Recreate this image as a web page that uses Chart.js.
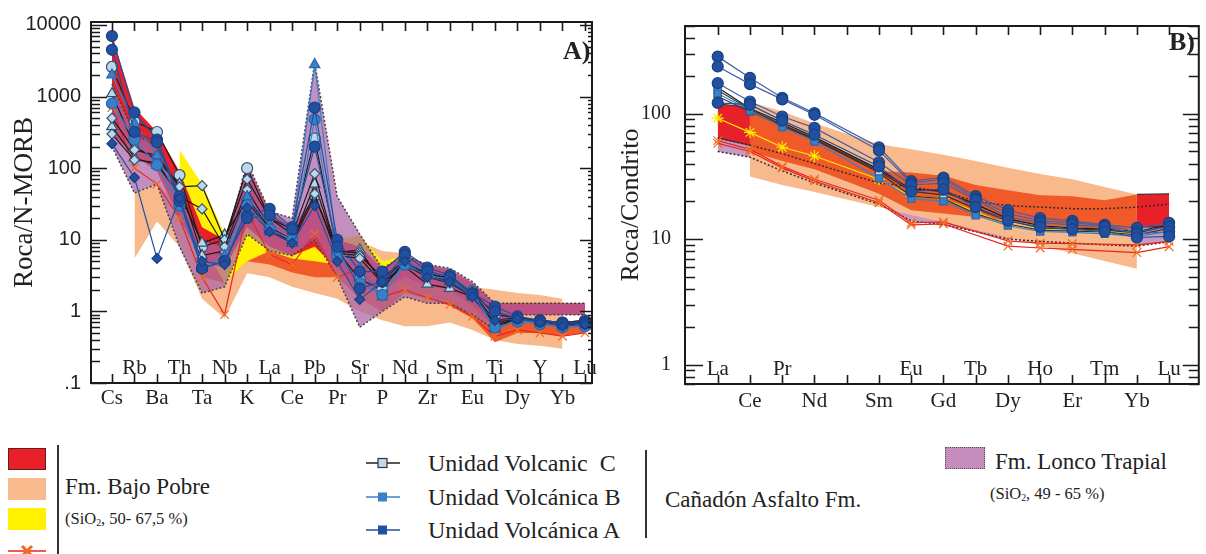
<!DOCTYPE html>
<html lang="es">
<head>
<meta charset="UTF-8">
<title>Diagramas multielementales</title>
<script src="https://cdn.jsdelivr.net/npm/chart.js"></script>
<style>
  body { margin: 0; background: #fff; }
  #page { position: relative; width: 1206px; height: 554px; overflow: hidden; font-family: "Liberation Serif", "Times New Roman", serif; color: #222; }
  canvas { position: absolute; top: 0; }
  .t { position: absolute; line-height: 1; white-space: nowrap; }
  .sw { position: absolute; width: 38px; height: 22px; }
  .vl { position: absolute; width: 1.5px; background: #333; }
  sub { font-size: 60%; vertical-align: -2px; line-height: 0; }
</style>
</head>
<body>
<div id="page">
  <canvas id="chartA" width="600" height="420" style="left:0"></canvas>
  <canvas id="chartB" width="606" height="420" style="left:600px"></canvas>

  <div class="t" style="left:563px; top:38px; font-size:26px; font-weight:bold;">A)</div>
  <div class="t" style="left:1169px; top:29px; font-size:26px; font-weight:bold;">B)</div>

  <!-- leyenda izquierda -->
  <div class="sw" style="left:8px; top:448px; background:#e8202a; border:1px solid #6b1a1a; box-sizing:border-box;"></div>
  <div class="sw" style="left:8px; top:478px; background:#f8b98c;"></div>
  <div class="sw" style="left:8px; top:508px; background:#fff100;"></div>
  <svg style="position:absolute; left:8px; top:540px;" width="40" height="14">
    <line x1="0" y1="11" x2="38" y2="11" stroke="#e8251f" stroke-width="1.5"/>
    <path d="M14 6 L24 16 M24 6 L14 16" stroke="#f26b21" stroke-width="3"/>
  </svg>
  <div class="vl" style="left:57px; top:445px; height:109px;"></div>
  <div class="t" style="left:65px; top:475px; font-size:23px;">Fm. Bajo Pobre</div>
  <div class="t" style="left:65px; top:511px; font-size:16.5px;">(SiO<sub>2</sub>, 50- 67,5 %)</div>

  <!-- leyenda central -->
  <svg style="position:absolute; left:366px; top:456px;" width="34" height="14">
    <line x1="0" y1="7" x2="34" y2="7" stroke="#222" stroke-width="1.5"/>
    <rect x="12" y="2.5" width="9" height="9" fill="#bdd7ee" stroke="#333" stroke-width="1.2"/>
  </svg>
  <svg style="position:absolute; left:366px; top:490px;" width="34" height="14">
    <line x1="0" y1="7" x2="34" y2="7" stroke="#3a80c9" stroke-width="1.5"/>
    <rect x="12" y="2.5" width="9" height="9" fill="#3a80c9"/>
  </svg>
  <svg style="position:absolute; left:366px; top:523px;" width="34" height="14">
    <line x1="0" y1="7" x2="34" y2="7" stroke="#2150a0" stroke-width="1.5"/>
    <rect x="12" y="2.5" width="9" height="9" fill="#2150a0"/>
  </svg>
  <div class="t" style="left:428px; top:451px; font-size:24px;">Unidad Volcanic&nbsp; C</div>
  <div class="t" style="left:428px; top:485px; font-size:24px;">Unidad Volcánica B</div>
  <div class="t" style="left:428px; top:518px; font-size:24px;">Unidad Volcánica A</div>
  <div class="vl" style="left:645px; top:450px; height:88px;"></div>
  <div class="t" style="left:665px; top:488px; font-size:23px;">Cañadón Asfalto Fm.</div>

  <!-- leyenda derecha -->
  <div class="sw" style="left:945px; top:447px; width:40px; background:#c48dbe; border:1.5px dotted #555; box-sizing:border-box;"></div>
  <div class="t" style="left:995px; top:450px; font-size:23px;">Fm. Lonco Trapial</div>
  <div class="t" style="left:990px; top:486px; font-size:16.5px;">(SiO<sub>2</sub>, 49 - 65 %)</div>
</div>

<script>
// ---------- Panel A: normalizado a N-MORB ----------
const elemA   = ['Cs','Rb','Ba','Th','Ta','Nb','K','La','Ce','Pb','Pr','Sr','P','Nd','Zr','Sm','Eu','Ti','Dy','Y','Yb','Lu'];
const bottomA = ['Cs','','Ba','','Ta','','K','','Ce','','Pr','','P','','Zr','','Eu','','Dy','','Yb',''];
const topA    = ['','Rb','','Th','','Nb','','La','','Pb','','Sr','','Nd','','Sm','','Ti','','Y','','Lu'];
const yTicksA  = [0.1, 1, 10, 100, 1000, 10000];
const yLabelsA = ['.1', '1', '10', '100', '1000', '10000'];

// campos (envolventes)
const peachTopA  = [null, 45, 60, 30, 8, 5, 25, 15, 10, 8, 7, 9.5, 7, 6.5, 4.2, 4, 2.2, 2, 1.8, 1.7, 1.5, null];
const peachLowA  = [null, 5.5, 18, 8, 1.5, 0.8, 3.4, 3, 2.2, 1.8, 1.5, 1, 0.75, 0.62, 0.62, 0.7, 0.55, 0.4, 0.35, 0.33, 0.3, null];
const orangeTopA = [null, null, null, null, 10, 8, 30, 10, 8, 8, 6, 5, 2.5, 3, 2.2, 2, 1.5, 0.9, 0.8, 0.75, 0.7, 0.75];
const orangeLowA = [null, null, null, null, 3, 2.5, 5, 4.5, 3.5, 3, 3, 1.5, 1, 1.8, 1.5, 1.2, 0.8, 0.37, 0.5, 0.5, 0.45, 0.5];
const yellowTopA = [null, null, null, 180, 60, 12, 50, 20, 12, 12, 10, 11.5, 5, 6, 4.5, 3.8, null, null, null, null, null, null];
const yellowLowA = [null, null, null, 50, 9, 2.5, 5, 7, 5.5, 5, 4.5, 5, 2.5, 3, 2.4, 2.2, null, null, null, null, null, null];
const redTopA    = [7000, 700, 320, 90, 15, 10, 110, 25, 15, 40, 10, 8, 4, 6, 4.5, 3.8, 2.5, 1.3, 1.3, 1.3, 1.3, 1.3];
const redLowA    = [300, 150, 90, 20, 5, 4, 15, 8, 6, 8, 4, 2, 2, 3, 2.2, 2, 1.2, 0.6, 0.9, 0.9, 0.9, 0.9];
const loncoTopA  = [1500, 300, 200, 40, 10, 8, 120, 25, 20, 3000, 40, 12, 4, 6, 4.5, 4, 2.6, 1.3, 1.3, 1.3, 1.3, 1.3];
const loncoLowA  = [200, 45, 60, 8, 1.8, 2.2, 12, 7, 6, 10, 3, 0.6, 1, 1.6, 1.3, 1.3, 0.9, 0.55, 0.9, 0.9, 0.9, 0.9];

// muestras
const unidadA1 = [7000, 600, 250, 40, 4, 5, 22, 27, 15, 700, 10, 3.6, 3.6, 6.8, 4.1, 3.2, 1.8, 1.17, 0.85, 0.75, 0.7, 0.72];
const unidadA2 = [4500, 320, 230, 35, 4, 5, 20, 22, 14, 200, 8, 2.1, 2.6, 6.2, 3.7, 3, 1.7, 1.0, 0.8, 0.72, 0.66, 0.68];
const unidadA3 = [220, 74, 5.5, 38, 5, 4.5, 28, 13, 9, 30, 5, 1.47, 2.6, 5, 3, 2.6, 1.6, 0.75, 0.78, 0.7, 0.62, 0.66];
const unidadB1 = [2000, 420, 150, 35, 4, 6, 40, 16, 12, 2800, 7, 4, 1.6, 5, 3.5, 3.1, 1.9, 0.56, 0.75, 0.7, 0.62, 0.62];
const unidadB2 = [800, 250, 110, 30, 4, 5, 30, 14, 10, 480, 6, 2.5, 1.7, 4.5, 3.2, 2.8, 1.7, 0.6, 0.72, 0.66, 0.6, 0.62];
const unidadC1 = [2600, 450, 320, 80, 8, 10, 100, 20, 14, 260, 7, 2.8, 2, 5.2, 3.2, 3, 1.9, 0.9, 0.82, 0.75, 0.7, 0.75];
const unidadC2 = [1100, 200, 130, 60, 6, 7, 40, 14, 9.3, 60, 6.6, 7.2, 2.5, 4.2, 2.4, 2.1, 1.6, 0.7, 0.8, 0.72, 0.65, 0.72];
const unidadC3 = [380, 140, 110, 45, 9, 11.7, 35, 13, 9, 40, 7, 6.5, 2.8, 4.8, 3.3, 2.6, 1.7, 0.6, 0.8, 0.72, 0.66, 0.72];
const unidadC4 = [500, 180, 150, 55, 57, 10, 70, 20, 12, 84, 6.5, 6, 3, 5, 3.5, 2.8, 1.8, 0.75, 0.82, 0.75, 0.7, 0.75];
const unidadC5 = [300, 130, 120, 40, 27, 8, 50, 15, 10, 44, 6, 5.5, 2.5, 4.5, 3, 2.5, 1.6, 0.65, 0.78, 0.7, 0.64, 0.68];
const bajoPobreA = [700, 100, 60, 20, 3, 0.9, 25, 6.2, 4.5, 12, 3, 4, 1.6, 2, 1.55, 1.25, 0.85, 0.45, 0.55, 0.5, 0.45, 0.5];

// ---------- Panel B: normalizado a condrito ----------
const elemB   = ['La','Ce','Pr','Nd','Pm','Sm','Eu','Gd','Tb','Dy','Ho','Er','Tm','Yb','Lu'];
const bottomB = ['','Ce','','Nd','','Sm','','Gd','','Dy','','Er','','Yb',''];
const topB    = ['La','','Pr','','','','Eu','','Tb','','Ho','','Tm','','Lu'];
const yTicksB  = [1, 10, 100];
const yLabelsB = ['1', '10', '100'];

const peachTopB  = [null, 124, 104, 84, null, 57, 52, 47, 42, 37, 33, 30, 26, 22.7, null];
const peachLowB  = [null, 31.6, 27, 23.7, null, 18, 15.6, 13.6, 11.8, 10.3, 8.9, 7.7, 6.7, 5.8, null];
const orangeTopB = [null, 108, 84, 64, null, 35, 34, 32, 27, 24.5, 22.4, 22, 20.4, 22.7, null];
const orangeLowB = [null, 50, 42, 36, null, 23, 17, 16, 15, 14, 13, 12.5, 12, 12, null];
const redTopB1   = [120, 112, null, null, null, null, null, null, null, null, null, null, null, null, null];
const redLowB1   = [64, 56, null, null, null, null, null, null, null, null, null, null, null, null, null];
const redTopB2   = [null, null, null, null, null, null, null, null, null, null, null, null, null, 22.7, 23];
const redLowB2   = [null, null, null, null, null, null, null, null, null, null, null, null, null, 12.5, 12.5];
const loncoTopB  = [64, 56, 48, 40, null, 28, 26, 24, 20, 18.5, 18, 17.5, 17.5, 18, 19];
const loncoLowB  = [50, 45, 35, 28, null, 19, 14, 13, 11.5, 10, 9.6, 9.3, 9, 8.8, 9.5];

const remA1 = [285, 193, 134, 101, null, 54, 29, 31, 22, 17, 14.7, 14, 13, 12.3, 13.5];
const remA2 = [238, 172, 130, 98, null, 51, 28, 30, 21, 16, 14, 13.5, 12.8, 11.5, 12.5];
const remA3 = [175, 125, 95, 77, null, 41, 27, 28, 20.5, 15, 13.5, 13, 12.5, 11, 11.5];
const remA4 = [122, 118, 88, 68, null, 38, 24, 25, 18, 14, 12.5, 12, 11.5, 10.3, 10.5];
const remC1 = [162, 110, 85, 65, null, 36, 25, 24, 19, 14.5, 12.8, 12.3, 12, 11.5, 13];
const remC2 = [154, 108, 82, 63, null, 35, 24, 22.5, 17.5, 14, 12.3, 12, 11.8, 11.2, 12.7];
const remC3 = [137, 104, 80, 62, null, 34, 22, 21, 16, 13.2, 11.8, 11.6, 11.4, 10.8, 12.2];
const remB1 = [145, 106, 78, 60, null, 30.5, 21, 20, 15.5, 12.8, 11.5, 11.3, 11, 10.5, 11.5];
const remYellow = [92, 71, 54, 46, null, 30, 22, 21, 16.5, 13, 12, 11.6, 11.3, 11, 11.5];
const remBP1 = [61, 52, 38, 30, null, 20.4, 13.5, 13.7, null, 9.7, 9.3, 9.2, null, 9.0, 9.6];
const remBP2 = [58, 50, 37, 29, null, 19.5, 13, 13.2, null, 8.8, 8.5, 8.3, null, 7.8, 8.7];

// ---------- helpers ----------
function pts(vals) {
    return vals.map((v, i) => ({ x: i, y: v })).filter(p => p.y !== null);
}

function field(top, low, color, order, border) {
    const b = border || { width: 0 };
    const common = {
        pointRadius: 0, tension: 0, order: order,
        borderColor: b.color || 'transparent', borderWidth: b.width, borderDash: b.dash || []
    };
    return [
        Object.assign({ data: pts(top), fill: false }, common),
        Object.assign({ data: pts(low), fill: '-1', backgroundColor: color }, common)
    ];
}

function sample(vals, lineColor, style, fillColor, edgeColor, order, radius) {
    return {
        data: pts(vals), fill: false, tension: 0, order: order,
        borderColor: lineColor, borderWidth: 1.2,
        pointStyle: style, pointRadius: radius || 5,
        pointBackgroundColor: fillColor, pointBorderColor: edgeColor, pointBorderWidth: 1.2
    };
}

function framePlugin(topLabels, o) {
    return {
        id: 'frame',
        afterDraw(chart) {
            const { ctx, chartArea: a } = chart;
            const x = chart.scales.x, y = chart.scales.y;
            ctx.save();
            ctx.strokeStyle = '#1a1a1a';
            ctx.lineWidth = 1.6;
            ctx.beginPath();
            topLabels.forEach((_, i) => {
                const px = Math.round(x.getPixelForValue(i)) + 0.5;
                ctx.moveTo(px, a.top); ctx.lineTo(px, a.top + o.xTick);
                ctx.moveTo(px, a.bottom); ctx.lineTo(px, a.bottom - o.xTick);
            });
            const e0 = Math.floor(Math.log10(y.min)), e1 = Math.ceil(Math.log10(y.max));
            for (let e = e0; e <= e1; e++) {
                for (let k = 1; k <= 9; k++) {
                    const v = k * Math.pow(10, e);
                    if (v < y.min * 0.999 || v > y.max) continue;
                    const py = Math.round(y.getPixelForValue(v)) + 0.5;
                    const major = k === 1;
                    ctx.moveTo(a.left, py); ctx.lineTo(a.left + (major ? o.majL : o.minL), py);
                    ctx.moveTo(a.right, py); ctx.lineTo(a.right - (major ? o.majR : o.minR), py);
                }
            }
            ctx.stroke();
            ctx.lineWidth = 2;
            ctx.strokeRect(a.left, a.top, a.right - a.left, a.bottom - a.top);
            ctx.fillStyle = '#222';
            ctx.font = '21px "Liberation Serif"';
            ctx.textAlign = 'center';
            ctx.textBaseline = 'middle';
            topLabels.forEach((t, i) => { if (t) ctx.fillText(t, x.getPixelForValue(i), o.labelY); });
            ctx.restore();
        }
    };
}

function baseOptions(p) {
    return {
        responsive: false,
        animation: false,
        devicePixelRatio: 1,
        layout: { padding: p.padding },
        plugins: { legend: { display: false }, tooltip: { enabled: false } },
        scales: {
            x: {
                type: 'linear', min: p.xMin, max: p.xMax,
                grid: { display: false, drawTicks: false }, border: { display: false },
                afterBuildTicks: s => { s.ticks = p.bottom.map((_, i) => ({ value: i })); },
                ticks: {
                    autoSkip: false, maxRotation: 0, padding: p.xPad, color: '#222',
                    font: { family: 'Liberation Serif', size: 21 },
                    callback: v => p.bottom[v]
                },
                afterFit: s => { s.height = p.xHeight; }
            },
            y: {
                type: 'logarithmic', min: p.yMin, max: p.yMax,
                grid: { display: false, drawTicks: false }, border: { display: false },
                afterBuildTicks: s => { s.ticks = p.yTicks.map(v => ({ value: v })); },
                ticks: {
                    autoSkip: false, padding: p.yPad, color: '#222',
                    font: { family: p.yFont, size: 20 },
                    callback: v => p.yLabels[p.yTicks.indexOf(v)]
                },
                title: {
                    display: true, text: p.title, color: '#222',
                    font: { family: 'Liberation Serif', size: p.titleSize },
                    padding: { top: p.titlePad, bottom: 0 }
                },
                afterFit: s => { s.width = p.yWidth; }
            }
        }
    };
}

// ---------- chart A ----------
const lightFill = '#bcd6eb', lightEdge = '#34506e';
const dsA = [].concat(
    field(peachTopA, peachLowA, '#f8b98c', 60),
    field(orangeTopA, orangeLowA, '#f05a28', 50),
    field(yellowTopA, yellowLowA, '#fff100', 40),
    field(redTopA, redLowA, '#e8202a', 30),
    field(loncoTopA, loncoLowA, 'rgba(170, 100, 165, 0.72)', 20, { color: '#444', width: 1.5, dash: [2, 2] }),
    [
        sample(bajoPobreA, '#e8251f', 'crossRot', '#f26b21', '#f26b21', 5, 6),
        sample(unidadC5, '#1a1a1a', 'rectRot', lightFill, lightEdge, 4, 5),
        sample(unidadC4, '#1a1a1a', 'rectRot', lightFill, lightEdge, 4, 5),
        sample(unidadC3, '#1a1a1a', 'triangle', lightFill, lightEdge, 4, 6),
        sample(unidadC2, '#1a1a1a', 'triangle', lightFill, lightEdge, 4, 6),
        sample(unidadC1, '#1a1a1a', 'circle', lightFill, lightEdge, 4, 5.5),
        sample(unidadB2, '#3a80c9', 'circle', '#3a80c9', '#2c64a8', 3, 5.5),
        sample(unidadB1, '#3a80c9', 'triangle', '#3a80c9', '#2c64a8', 3, 6),
        sample(unidadA3, '#2150a0', 'rectRot', '#2150a0', '#1a3f80', 2, 5),
        sample(unidadA2, '#2150a0', 'circle', '#2150a0', '#1a3f80', 2, 5.5),
        sample(unidadA1, '#2150a0', 'circle', '#2150a0', '#1a3f80', 2, 5.5)
    ]
);

new Chart(document.getElementById('chartA'), {
    type: 'line',
    data: { datasets: dsA },
    options: baseOptions({
        padding: { top: 20, right: 8, left: 0, bottom: 0 },
        xMin: -0.93, xMax: 21.31, xPad: 3, xHeight: 37, bottom: bottomA,
        yMin: 0.1, yMax: 11000, yTicks: yTicksA, yLabels: yLabelsA, yPad: 10, yWidth: 91,
        yFont: 'Liberation Sans', title: 'Roca/N-MORB', titleSize: 27, titlePad: 9
    }),
    plugins: [framePlugin(topA, { xTick: 9, majL: 16, minL: 9, majR: 12, minR: 4, labelY: 368 })]
});

// ---------- chart B ----------
const dsB = [].concat(
    field(loncoTopB, loncoLowB, 'rgba(190, 135, 185, 0.85)', 70),
    field(peachTopB, peachLowB, '#f8b98c', 60),
    field(orangeTopB, orangeLowB, '#f05a28', 50),
    field(redTopB1, redLowB1, '#e8202a', 40, { color: '#333', width: 1.2 }),
    field(redTopB2, redLowB2, '#e8202a', 40, { color: '#333', width: 1.2 }),
    [
        { data: pts(loncoTopB), fill: false, pointRadius: 0, borderColor: '#3a2a2a', borderWidth: 1.5, borderDash: [2, 2], order: 30 },
        { data: pts(loncoLowB), fill: false, pointRadius: 0, borderColor: '#3a2a2a', borderWidth: 1.5, borderDash: [2, 2], order: 30 },
        sample(remBP2, '#e8251f', 'crossRot', '#f26b21', '#f26b21', 5, 6),
        sample(remBP1, '#e8251f', 'crossRot', '#f26b21', '#f26b21', 5, 6),
        sample(remYellow, '#ffe800', 'star', '#ffe800', '#ffe800', 5, 6),
        sample(remC3, '#333', 'rect', lightFill, lightEdge, 4, 5),
        sample(remC2, '#333', 'rect', lightFill, lightEdge, 4, 5),
        sample(remC1, '#1a1a1a', 'rect', lightFill, lightEdge, 4, 5),
        sample(remB1, '#3a80c9', 'rect', '#3a80c9', '#2c64a8', 3, 5),
        sample(remA4, '#2150a0', 'circle', '#2150a0', '#1a3f80', 2, 5.5),
        sample(remA3, '#4060a8', 'circle', '#2150a0', '#1a3f80', 2, 5.5),
        sample(remA2, '#4060a8', 'circle', '#2150a0', '#1a3f80', 2, 5.5),
        sample(remA1, '#4060a8', 'circle', '#2150a0', '#1a3f80', 2, 5.5)
    ]
);

new Chart(document.getElementById('chartB'), {
    type: 'line',
    data: { datasets: dsB },
    options: baseOptions({
        padding: { top: 20, right: 3, left: 0, bottom: 0 },
        xMin: -1.015, xMax: 14.92, xPad: 5, xHeight: 36, bottom: bottomB,
        yMin: 0.7, yMax: 500, yTicks: yTicksB, yLabels: yLabelsB, yPad: 14, yWidth: 85,
        yFont: 'Liberation Serif', title: 'Roca/Condrito', titleSize: 26, titlePad: 16
    }),
    plugins: [framePlugin(topB, { xTick: 9, majL: 18, minL: 10, majR: 16, minR: 10, labelY: 369 })]
});
</script>
</body>
</html>
